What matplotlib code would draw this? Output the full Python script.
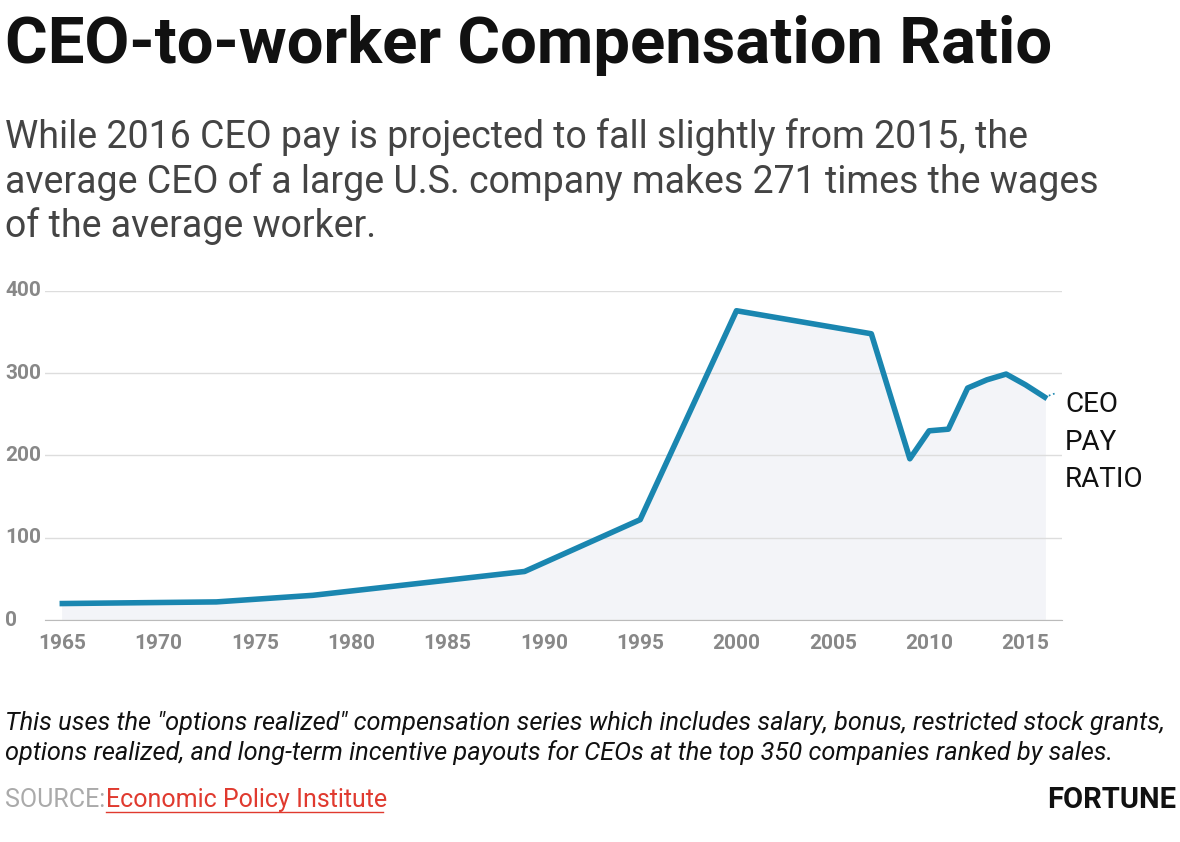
import matplotlib.pyplot as plt

# CEO-to-worker compensation ratio (EPI, options realized)
years = [1965, 1973, 1978, 1989, 1995, 2000, 2007, 2009, 2010, 2011, 2012, 2013, 2014, 2015, 2016]
ratio = [20, 22, 30, 59, 122, 376, 348, 196, 230, 232, 282, 292, 299, 286, 271]
xticks = [1965, 1970, 1975, 1980, 1985, 1990, 1995, 2000, 2005, 2010, 2015]
yticks = [0, 100, 200, 300, 400]

plt.rcParams['font.family'] = ['Roboto', 'DejaVu Sans']
line_col = '#1a86b0'
grey = '#888888'

fig = plt.figure(figsize=(11.8, 8.42), dpi=100)
ax = fig.add_axes([45/1180, 1-620/842, (1062-45)/1180, (620-291)/842])

ax.fill_between(years, ratio, 0, color='#f3f4f8', zorder=1)
ax.plot(years, ratio, color=line_col, lw=4, zorder=3, solid_joinstyle='round')
ax.plot([2016, 2016.6], [271, 276], color=line_col, lw=1.2, ls=':', zorder=3, clip_on=False)

ax.set_xlim(1964.1, 2016.9)
ax.set_ylim(0, 400)
ax.set_xticks(xticks)
ax.set_yticks(yticks)
ax.set_yticklabels([])
for y in yticks:
    fig.text(5/1180, 1-(620-y*329/400)/842, str(y), color=grey, fontsize=15,
             fontweight='bold', va='center', ha='left')
ax.grid(axis='y', color='#dddddd', lw=1, zorder=0)
ax.tick_params(axis='x', colors=grey, labelsize=15, length=0, pad=10)
ax.tick_params(axis='y', length=0)
for lab in ax.get_xticklabels():
    lab.set_fontweight('bold')
for s in ['top', 'right', 'left']:
    ax.spines[s].set_visible(False)
ax.spines['bottom'].set_color('#bbbbbb')

ax.text(1.003, 0.695, 'CEO\nPAY\nRATIO', transform=ax.transAxes, fontsize=20, va='top',
        ha='left', linespacing=1.5, color='#111111')

fig.text(5/1180, 1-45/842, 'CEO-to-worker Compensation Ratio', fontsize=47,
         fontweight='bold', va='center', color='#111111')
fig.text(5/1180, 1-182/842,
         'While 2016 CEO pay is projected to fall slightly from 2015, the\n'
         'average CEO of a large U.S. company makes 271 times the wages\n'
         'of the average worker.',
         fontsize=27, va='center', color='#444444', linespacing=1.22)
fig.text(5/1180, 1-738/842,
         'This uses the "options realized" compensation series which includes salary, bonus, restricted stock grants,\n'
         'options realized, and long-term incentive payouts for CEOs at the top 350 companies ranked by sales.',
         fontsize=18.3, style='italic', va='center', color='#111111', linespacing=1.3)
fig.text(5/1180, 1-800/842, 'SOURCE:', fontsize=18, color='#aaaaaa', va='center')
fig.text(106/1180, 1-800/842, 'Economic Policy Institute', fontsize=18, color='#e03a2f',
         va='center')
fig.add_artist(plt.Line2D([106/1180, 383/1180], [1-812/842, 1-812/842], color='#e03a2f', lw=1))
fig.text(1176/1180, 1-800/842, 'FORTUNE', fontsize=21, fontweight='bold', ha='right',
         va='center', color='#111111')

fig.savefig('out.png', dpi=100)
